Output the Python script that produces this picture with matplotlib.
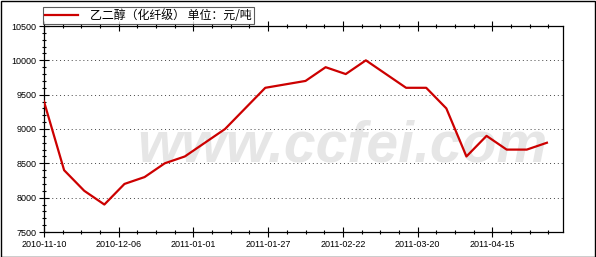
import numpy as np
import pandas as pd
import matplotlib
matplotlib.use("Agg")
import matplotlib.pyplot as plt
import matplotlib.dates as mdates
from matplotlib.lines import Line2D
from matplotlib.patches import Rectangle

plt.rcParams['font.family'] = ['Liberation Sans', 'Noto Sans CJK SC', 'DejaVu Sans']

# weekly prices, yuan/ton
start = "2010-11-10"
prices = [9400, 8400, 8100, 7900, 8200, 8300, 8500, 8600, 8800, 9000,
          9300, 9600, 9650, 9700, 9900, 9800, 10000, 9800, 9600, 9600,
          9300, 8600, 8900, 8700, 8700, 8800]
dates = pd.date_range(start, periods=len(prices), freq="7D")
label = "乙二醇（化纤级） 单位：元/吨"

W, H = 596, 257
fig = plt.figure(figsize=(W / 100, H / 100), dpi=100)
ax = fig.add_axes([44 / W, 1 - 232 / H, (563 - 44) / W, (232 - 26) / H])

# watermark, behind the line
ax.text(137 / W, 1 - 162 / H, "www.ccfei.com", fontsize=41, fontweight="bold",
        fontstyle="italic", color="#e6e6e6", ha="left", va="baseline", zorder=0,
        family=["Liberation Sans"], transform=fig.transFigure, clip_on=False)

ax.plot(dates, prices, color="#cc0000", lw=1.6, zorder=3)

t0 = mdates.date2num(pd.Timestamp(start))
ax.set_xlim(t0, t0 + 180.6)
ax.set_ylim(7500, 10500)

major = [t0 + 26 * i for i in range(7)]
ax.set_xticks(major)
ax.set_xticklabels([mdates.num2date(m).strftime("%Y-%m-%d") for m in major])
ax.set_xticks([t0 + 6.5 * i for i in range(28)], minor=True)
ax.set_yticks(np.arange(7500, 10501, 500))
ax.set_yticks(np.arange(7500, 10501, 100), minor=True)

ax.tick_params(which="major", direction="inout", length=7, width=0.8,
               labelsize=6.5, pad=2)
ax.tick_params(which="minor", direction="inout", length=3, width=0.8)
ax.tick_params(axis="x", which="both", top=True, bottom=True)
ax.tick_params(axis="y", which="both", left=True, right=False)

for y in range(8000, 10001, 500):
    ax.axhline(y, color="#444444", lw=0.7, ls=(0, (1, 3)), zorder=1)

for s in ax.spines.values():
    s.set_linewidth(0.9)
    s.set_color("black")

# legend box
leg = fig.legend(handles=[Line2D([], [], color="#cc0000", lw=1.6)], labels=[label],
                 loc="upper left", bbox_to_anchor=(43 / W, 1 - 7 / H),
                 frameon=True, fancybox=False, edgecolor="#333333",
                 handlelength=2.8, handletextpad=1.0, borderpad=0.15,
                 borderaxespad=0, prop={"family": ["Noto Sans CJK SC"], "size": 8.6})
leg.get_frame().set_linewidth(0.8)

# outer frame
fig.patches.append(Rectangle((0.5 / W, 0.5 / H), 1 - 1.5 / W, 1 - 1.5 / H,
                             transform=fig.transFigure, fill=False,
                             edgecolor="black", lw=1))

fig.savefig("out.png", dpi=100)
